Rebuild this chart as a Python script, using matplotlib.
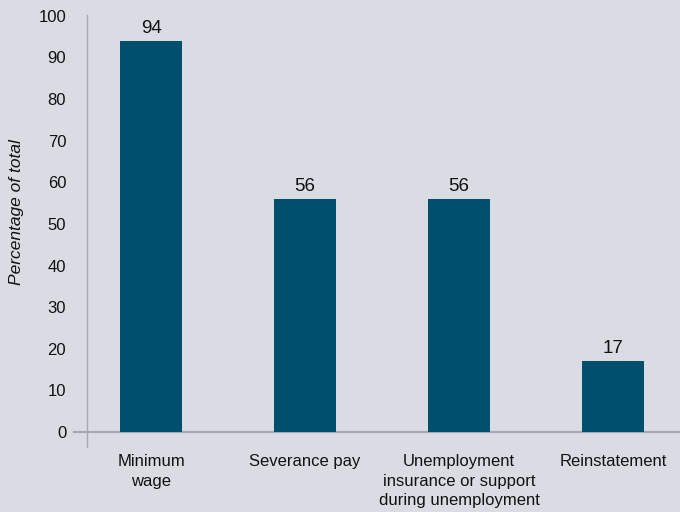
import numpy as np
import matplotlib.pyplot as plt

# survey results: share of total
categories = ['Minimum\nwage', 'Severance pay',
              'Unemployment\ninsurance or support\nduring unemployment',
              'Reinstatement']
values = [94, 56, 56, 17]
yticks = list(range(0, 101, 10))

bg = '#d9dde3'
bar_color = '#004f6c'
axis_gray = '#a6a9ad'

plt.rcParams['font.family'] = ['Liberation Sans', 'DejaVu Sans']

fig = plt.figure(figsize=(6.8, 5.12), dpi=100)
fig.patch.set_facecolor(bg)
ax = fig.add_axes([87 / 680, 1 - 447 / 512, 593 / 680, 432 / 512])
ax.set_facecolor(bg)

x = np.arange(len(categories))
bars = ax.bar(x, values, width=0.40, color=bar_color, zorder=3)
for b, v in zip(bars, values):
    ax.text(b.get_x() + b.get_width() / 2, v + 1.0, str(v),
            ha='center', va='bottom', fontsize=13.5, color='#111111')

ax.set_xlim(-0.4156, 3.435)
ax.set_ylim(-3.6, 100.2)
ax.set_yticks(yticks)
ax.set_yticklabels([str(t) for t in yticks], fontsize=12, color='#111111')
ax.tick_params(axis='y', length=0, pad=15)
ax.set_xticks(x)
ax.set_xticklabels(categories, fontsize=12, color='#111111', linespacing=1.38,
                   va='top')
ax.tick_params(axis='x', length=0, pad=5)

for s in ['top', 'right', 'bottom']:
    ax.spines[s].set_visible(False)
ax.spines['left'].set_color(axis_gray)
ax.spines['left'].set_linewidth(1)

# baseline at zero, running a little past the left spine
ax.axhline(0, xmin=-13 / 593, xmax=1, color=axis_gray, linewidth=1.6,
           clip_on=False, zorder=2)

ax.set_ylabel('Percentage of total', fontsize=12.5, style='italic',
              color='#111111')
ax.yaxis.set_label_coords(-0.106, 0.544)

fig.savefig('out.png', dpi=100, facecolor=bg)
